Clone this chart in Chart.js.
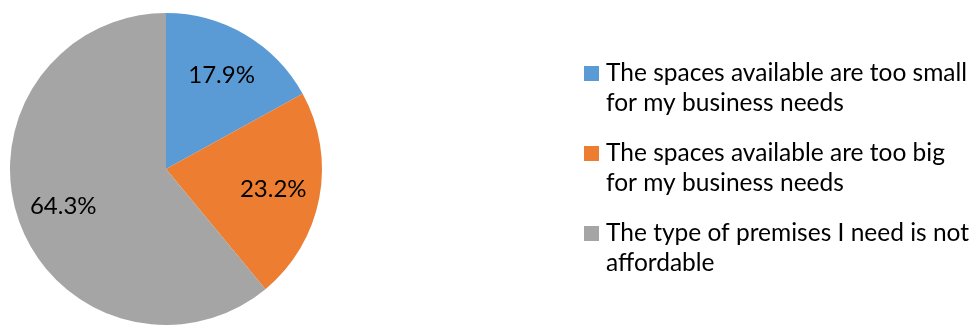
<!DOCTYPE html>
<html>
<head>
<meta charset="utf-8">
<title>Premises</title>
<script src="https://cdn.jsdelivr.net/npm/chart.js@4.4.1/dist/chart.umd.min.js"></script>
<style>
  html, body { margin: 0; padding: 0; background: #fff; overflow: hidden; }
  #wrap { position: relative; width: 971px; height: 325px; }
</style>
</head>
<body>
<div id="wrap"><canvas id="pieChart" width="971" height="325"></canvas></div>
<script>
// Reasons given (each label split into its legend lines)
const categories = [
    ["The spaces available are too small", "for my business needs"],
    ["The spaces available are too big", "for my business needs"],
    ["The type of premises I need is not", "affordable"]
];
const shares = [17.9, 23.2, 64.3];
const sliceColors = ["#5B9BD5", "#ED7D31", "#A5A5A5"];

const FONT = "Lato, 'Open Sans', sans-serif";

// Percent text inside each slice
const sliceLabels = {
    id: 'sliceLabels',
    afterDatasetsDraw(chart) {
        const ctx = chart.ctx;
        const meta = chart.getDatasetMeta(0);
        ctx.save();
        ctx.font = "24px " + FONT;
        ctx.fillStyle = "#000";
        ctx.textAlign = "center";
        ctx.textBaseline = "middle";
        meta.data.forEach((arc, i) => {
            const p = arc.getProps(['x', 'y', 'startAngle', 'endAngle', 'outerRadius'], true);
            const mid = (p.startAngle + p.endAngle) / 2;
            const r = p.outerRadius * 0.70;
            ctx.fillText(shares[i].toFixed(1) + "%", p.x + Math.cos(mid) * r, p.y + Math.sin(mid) * r);
        });
        ctx.restore();
    }
};

// Legend on the right, square + wrapped text
const sideLegend = {
    id: 'sideLegend',
    afterDraw(chart) {
        const ctx = chart.ctx;
        const left = 584, box = 15, textX = 606;
        const firstBaseline = 81, itemGap = 80, lineGap = 30;
        ctx.save();
        ctx.font = "24.5px " + FONT;
        ctx.textAlign = "left";
        ctx.textBaseline = "alphabetic";
        categories.forEach((lines, i) => {
            const base = firstBaseline + i * itemGap;
            ctx.fillStyle = sliceColors[i];
            ctx.fillRect(left, base - box, box, box);
            ctx.fillStyle = "#000";
            lines.forEach((line, j) => ctx.fillText(line, textX, base + j * lineGap));
        });
        ctx.restore();
    }
};

new Chart(document.getElementById('pieChart').getContext('2d'), {
    type: 'pie',
    data: {
        labels: categories,
        datasets: [{
            data: shares,
            backgroundColor: sliceColors,
            borderWidth: 0
        }]
    },
    options: {
        responsive: false,
        animation: false,
        layout: { padding: { left: 9, top: 13, right: 648, bottom: -2 } },
        plugins: {
            legend: { display: false },
            tooltip: { enabled: false }
        }
    },
    plugins: [sliceLabels, sideLegend]
});
</script>
</body>
</html>
